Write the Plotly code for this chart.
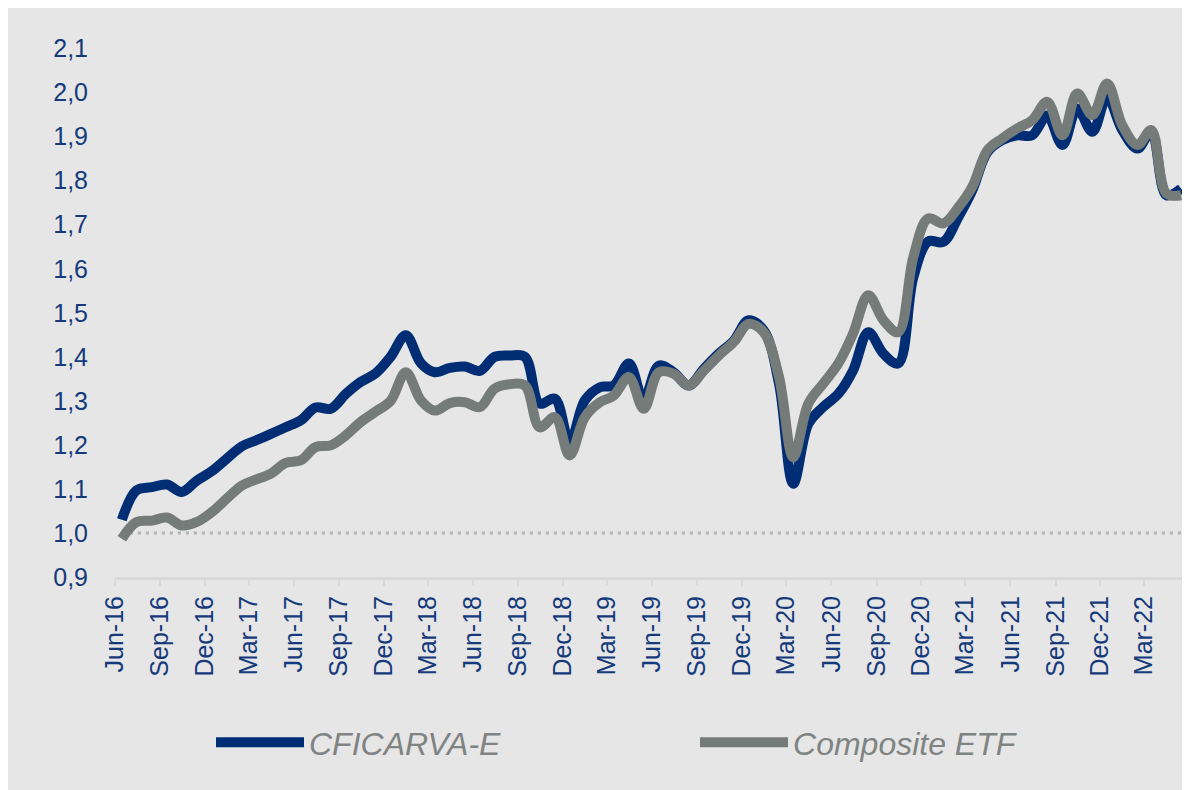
import pandas as pd
import plotly.graph_objects as go

# Monthly observations (plotted mid-month), Jun-2016 .. May-2022
months = pd.date_range("2016-06-01", "2022-05-01", freq="MS") + pd.Timedelta(days=14)

cficarva = [1.03, 1.097, 1.104, 1.11, 1.093, 1.119, 1.14, 1.169, 1.197, 1.21, 1.225, 1.24,
            1.256, 1.285, 1.282, 1.316, 1.343, 1.363,
            1.40, 1.449, 1.385, 1.365, 1.375, 1.378, 1.368, 1.40, 1.403, 1.40, 1.294, 1.305,
            1.206, 1.301, 1.331, 1.335, 1.385, 1.303, 1.38,
            1.365, 1.335, 1.373, 1.407, 1.437, 1.483, 1.46, 1.339, 1.112, 1.248, 1.286, 1.316,
            1.369, 1.456, 1.407, 1.385, 1.581, 1.662,
            1.661, 1.718, 1.778, 1.865, 1.892, 1.903, 1.903, 1.948, 1.881, 1.964, 1.911, 1.99,
            1.915, 1.873, 1.911, 1.767, 1.782]

composite = [0.987, 1.025, 1.028, 1.035, 1.017, 1.025, 1.047, 1.078, 1.108, 1.121, 1.135, 1.159,
             1.165, 1.195, 1.199, 1.222, 1.252, 1.276,
             1.30, 1.365, 1.301, 1.278, 1.295, 1.297, 1.286, 1.328, 1.338, 1.335, 1.24, 1.263,
             1.176, 1.263, 1.297, 1.312, 1.354, 1.282, 1.365,
             1.362, 1.335, 1.369, 1.403, 1.434, 1.475, 1.456, 1.354, 1.172, 1.294, 1.339, 1.385,
             1.453, 1.54, 1.483, 1.456, 1.627, 1.714,
             1.703, 1.74, 1.786, 1.869, 1.896, 1.919, 1.937, 1.979, 1.903, 1.998, 1.949, 2.021,
             1.926, 1.881, 1.915, 1.771, 1.767]

baseline = [1.0] * len(months)

series_names = ["CFICARVA-E", "Composite ETF"]
BLUE = "#002d74"
GRAY = "#747b79"
TEXT = "#143a7b"
BG = "#e6e6e6"

fig = go.Figure()
fig.add_trace(go.Scatter(x=months, y=baseline, mode="lines", showlegend=False,
                         line=dict(color="#b2b2b2", width=3, dash="3px,5px"),
                         hoverinfo="skip"))
fig.add_trace(go.Scatter(x=months, y=cficarva, mode="lines", name=series_names[0],
                         line=dict(color=BLUE, width=10, shape="spline", smoothing=1.0)))
fig.add_trace(go.Scatter(x=months, y=composite, mode="lines", name=series_names[1],
                         line=dict(color=GRAY, width=10, shape="spline", smoothing=1.0)))

fig.update_layout(
    width=1190, height=790,
    margin=dict(l=107, r=9, t=23, b=221, autoexpand=False),
    paper_bgcolor=BG,
    plot_bgcolor=BG,
    separators=", ",
    font=dict(family="Liberation Sans, Arial, sans-serif", color=TEXT, size=25),
    legend=dict(orientation="h", x=0.0894, y=-0.303, xanchor="left", yanchor="middle",
                font=dict(size=32, color="#7f8382", style="italic"),
                itemwidth=88, entrywidth=381, entrywidthmode="pixels",
                bgcolor="rgba(0,0,0,0)"),
    xaxis=dict(type="date", range=["2016-06-01", "2022-05-31"],
               tick0="2016-06-01", dtick="M3", tickformat="%b-%y", tickangle=-90,
               showgrid=False, zeroline=False, showline=True, linecolor="#d9d9d9",
               linewidth=3, ticks="outside", ticklen=6, tickwidth=2, tickcolor="#d9d9d9",
               tickfont=dict(size=25, color=TEXT)),
    yaxis=dict(range=[0.9, 2.14], tick0=0.9, dtick=0.1, tickformat=".1f",
               showgrid=False, zeroline=False, showline=False,
               ticklabelstandoff=26, tickfont=dict(size=25, color=TEXT)),
)

fig.write_html("out.html")
